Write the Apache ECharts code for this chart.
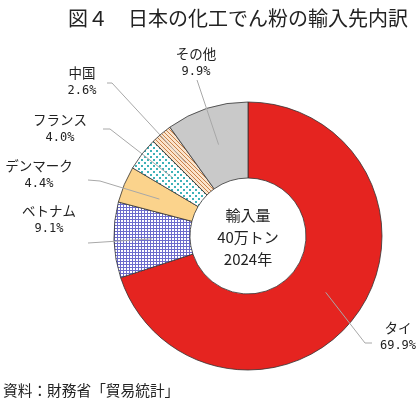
<!DOCTYPE html>
<html>
<head>
<meta charset="utf-8">
<script src="https://cdn.jsdelivr.net/npm/echarts@6/dist/echarts.min.js"></script>
<style>
html, body { margin: 0; padding: 0; background: #fff; }
#charts { width: 420px; height: 399px; }
</style>
</head>
<body>
<div id="charts"></div>
<script>
// data
var countries = ['タイ', 'ベトナム', 'デンマーク', 'フランス', '中国', 'その他'];
var shares = [69.9, 9.1, 4.4, 4.0, 2.6, 9.9];
var centerLines = ['輸入量', '40万トン', '2024年'];
var titleText = '図４　日本の化工でん粉の輸入先内訳';
var sourceText = '資料：財務省「貿易統計」';

var JP = '"Noto Sans CJK JP", "Noto Sans", sans-serif';
var MONO = '"DejaVu Sans Mono", "Liberation Mono", monospace';

function makePattern(size, bg, draw) {
    var c = document.createElement('canvas');
    c.width = size;
    c.height = size;
    var ctx = c.getContext('2d');
    ctx.fillStyle = bg;
    ctx.fillRect(0, 0, size, size);
    draw(ctx);
    return { image: c, repeat: 'repeat' };
}

var gridFill = makePattern(3, '#ffffff', function (ctx) {
    ctx.fillStyle = '#6c6ccc';
    ctx.fillRect(0, 0, 3, 1);
    ctx.fillRect(0, 0, 1, 3);
});
var dotFill = makePattern(6, '#ffffff', function (ctx) {
    ctx.fillStyle = '#3fb2b8';
    ctx.fillRect(0, 0, 2, 2);
    ctx.fillRect(3, 3, 2, 2);
});
var stripeFill = makePattern(4, '#fbe4cc', function (ctx) {
    ctx.fillStyle = '#c8824a';
    for (var i = 0; i < 4; i++) ctx.fillRect(i, i, 1, 1);
});

var fills = ['#e52420', gridFill, '#fbd38c', dotFill, stripeFill, '#c9c9c9'];

// where each label sits and the short tail of its leader line
var labelSpots = [
    { x: 398, y: 337, tail: [[365, 343], [372, 343]] },
    { x: 49, y: 220, tail: [[88, 243]] },
    { x: 39, y: 175, tail: [[100, 181], [88, 180]] },
    { x: 60, y: 129, tail: [[110, 129], [103, 129]] },
    { x: 82, y: 82, tail: [[112, 83], [107, 83]] },
    { x: 196, y: 63, tail: [[197, 80]] }
];

var ringData = countries.map(function (n, i) {
    return { name: n, value: shares[i], itemStyle: { color: fills[i] } };
});
var labelData = countries.map(function (n, i) {
    return { name: n, value: shares[i] };
});

var myChart = echarts.init(document.getElementById('charts'), null, { renderer: 'canvas' });

var option = {
    animation: false,
    title: [
        {
            text: titleText,
            right: 7,
            top: 3,
            textStyle: { fontSize: 20, fontWeight: 'normal', color: '#222', fontFamily: JP }
        }
    ],
    graphic: [
        {
            type: 'text',
            x: 248,
            y: 237,
            style: {
                text: centerLines.join('\n'),
                fontSize: 15,
                lineHeight: 22,
                fontFamily: JP,
                fill: '#222',
                textAlign: 'center',
                textVerticalAlign: 'middle'
            }
        },
        {
            type: 'text',
            x: 3,
            y: 390,
            style: {
                text: sourceText,
                fontSize: 14.7,
                fontFamily: JP,
                fill: '#222',
                textAlign: 'left',
                textVerticalAlign: 'middle'
            }
        }
    ],
    series: [
        {
            name: 'ring',
            type: 'pie',
            z: 2,
            center: [248, 236],
            radius: [58, 134],
            startAngle: 90,
            clockwise: true,
            silent: true,
            label: { show: false },
            labelLine: { show: false },
            itemStyle: { borderColor: '#333', borderWidth: 0.8 },
            data: ringData
        },
        {
            name: 'labels',
            type: 'pie',
            z: 6,
            center: [248, 236],
            radius: [0, 96],
            startAngle: 90,
            clockwise: true,
            silent: true,
            itemStyle: { color: 'rgba(0,0,0,0)', borderWidth: 0 },
            label: {
                show: true,
                position: 'outside',
                formatter: function (p) {
                    return '{n|' + p.name + '}\n{v|' + p.value.toFixed(1) + '%}';
                },
                rich: {
                    n: { fontSize: 13.5, fontFamily: JP, color: '#222', lineHeight: 18, align: 'center' },
                    v: { fontSize: 12, fontFamily: MONO, color: '#222', lineHeight: 18, align: 'center' }
                }
            },
            labelLine: {
                show: true,
                length: 5,
                length2: 5,
                lineStyle: { color: '#a8a8a8', width: 1 }
            },
            labelLayout: function (p) {
                var s = labelSpots[p.dataIndex];
                var start = p.labelLinePoints ? p.labelLinePoints[0] : [s.x, s.y];
                return {
                    x: s.x,
                    y: s.y,
                    align: 'center',
                    verticalAlign: 'middle',
                    labelLinePoints: [start].concat(s.tail)
                };
            },
            data: labelData
        }
    ]
};

myChart.setOption(option);
</script>
</body>
</html>
